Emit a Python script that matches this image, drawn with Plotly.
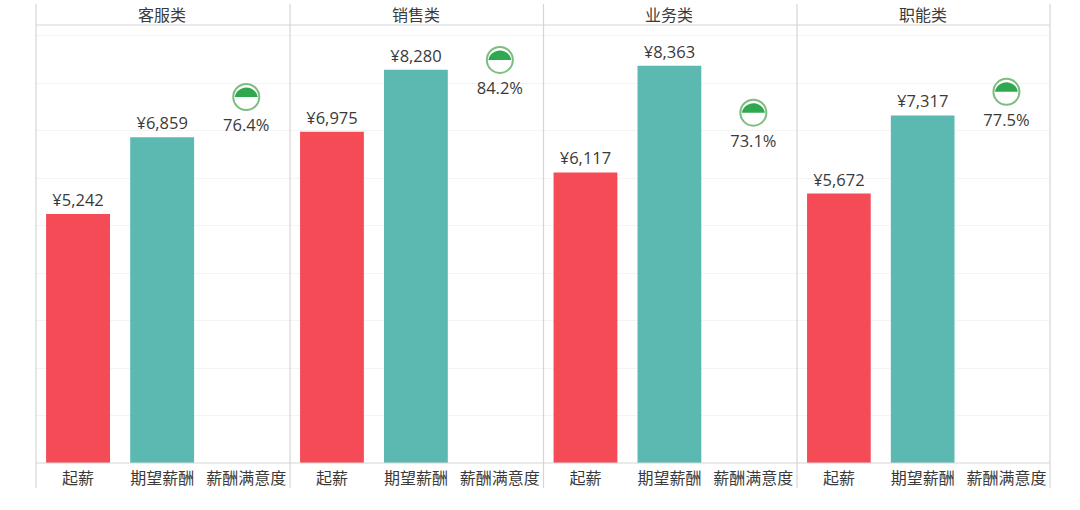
import plotly.graph_objects as go

panels = ["客服类", "销售类", "业务类", "职能类"]
categories = ["起薪", "期望薪酬", "薪酬满意度"]
start_pay = [5242, 6975, 6117, 5672]
expected_pay = [6859, 8280, 8363, 7317]
satisfaction = [76.4, 84.2, 73.1, 77.5]

W, H = 1080, 510
edges = [36, 290, 543.5, 797, 1050]
TOP, BASE, BOTTOM, HEAD = 25, 463, 488, 4
TXT = "#3a3a3a"
CJK = "Noto Sans CJK SC"
NUM = "Open Sans, Noto Sans CJK SC"
LINE = "#d6d6d6"
VAL = 16.5

fig = go.Figure()
layout = dict(
    width=W, height=H, autosize=False, showlegend=False, bargap=0.24,
    margin=dict(l=0, r=0, t=0, b=0), paper_bgcolor="white", plot_bgcolor="white",
    font=dict(family=NUM, color=TXT, size=15),
)
dom_y = [(H - BASE) / H, (H - TOP) / H]
layout["yaxis"] = dict(domain=dom_y, range=[0, (BASE - TOP) / 0.0475], dtick=1000, showticklabels=False,
                       ticks="", gridcolor="#f4f4f4", gridwidth=1, zeroline=False, showline=False)
layout["yaxis2"] = dict(domain=dom_y, range=[-0.65, 91.56], overlaying="y", side="right", anchor="x",
                        showticklabels=False, ticks="", showgrid=False, zeroline=False, showline=False)
shapes, annotations = [], []
for i, name in enumerate(panels):
    suffix = "" if i == 0 else str(i + 1)
    xref = "x" + suffix
    layout["xaxis" + suffix] = dict(
        domain=[edges[i] / W, edges[i + 1] / W], type="category", categoryorder="array",
        categoryarray=categories, range=[-0.5, 2.52], anchor="y", showgrid=False, zeroline=False,
        showline=False, ticks="outside", ticklen=1, tickcolor="rgba(0,0,0,0)",
        tickfont=dict(family=CJK, size=16, color=TXT),
    )
    fig.add_bar(x=categories[:1], y=[start_pay[i]], xaxis=xref, yaxis="y", marker=dict(color="#F54B57", line_width=0),
                text=[f"¥{start_pay[i]:,}"], textposition="outside", cliponaxis=False,
                textfont=dict(family=NUM, size=VAL, color=TXT), offsetgroup="a")
    fig.add_bar(x=categories[1:2], y=[expected_pay[i]], xaxis=xref, yaxis="y", marker=dict(color="#5CB9B1", line_width=0),
                text=[f"¥{expected_pay[i]:,}"], textposition="outside", cliponaxis=False,
                textfont=dict(family=NUM, size=VAL, color=TXT), offsetgroup="a")
    fig.add_scatter(x=categories[2:], y=[satisfaction[i]], xaxis=xref, yaxis="y2", mode="markers",
                    marker=dict(symbol="circle", size=26, color="white", line=dict(color="#7DBE80", width=2)),
                    cliponaxis=False)
    fig.add_scatter(x=categories[2:], y=[satisfaction[i]], xaxis=xref, yaxis="y2", mode="markers+text",
                    marker=dict(symbol="circle", size=33, color="rgba(0,0,0,0)"),
                    text=[f"{satisfaction[i]}%"], textposition="bottom center", cliponaxis=False,
                    textfont=dict(family=NUM, size=VAL, color=TXT))
    shapes.append(dict(type="path", xref=xref, yref="y2", xsizemode="pixel", ysizemode="pixel",
                       xanchor=categories[2], yanchor=satisfaction[i],
                       path="M -11.5 0 C -10.5 6 -5 9.5 0 9.5 C 5 9.5 10.5 6 11.5 0 Z",
                       fillcolor="#2FA84F", line=dict(width=0), layer="above"))
    annotations.append(dict(text=name, x=(edges[i] + edges[i + 1]) / 2 / W - 1 / W, y=(H - 14) / H, xref="paper", yref="paper",
                            showarrow=False, xanchor="center", yanchor="middle",
                            font=dict(family=CJK, size=16, color=TXT)))

for x in edges:
    shapes.append(dict(type="line", xref="paper", yref="paper", x0=x / W, x1=x / W, y0=(H - HEAD) / H, y1=(H - BOTTOM) / H,
                       line=dict(color=LINE, width=1.2), layer="above"))
for y in (TOP, BASE):
    shapes.append(dict(type="line", xref="paper", yref="paper", x0=edges[0] / W, x1=edges[-1] / W, y0=(H - y) / H, y1=(H - y) / H,
                       line=dict(color=LINE, width=1.2), layer="above"))

layout["shapes"] = shapes
layout["annotations"] = annotations
fig.update_layout(**layout)
fig.write_html("out.html", config={"displayModeBar": False},
               post_script="document.body.style.margin='0';document.documentElement.style.overflow='hidden';")
